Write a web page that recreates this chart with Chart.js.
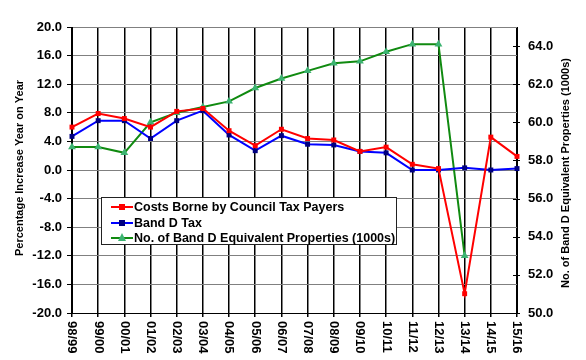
<!DOCTYPE html>
<html>
<head>
<meta charset="utf-8">
<script src="https://cdn.jsdelivr.net/npm/chart.js@4"></script>
<style>
  html, body { margin: 0; padding: 0; background: #fff; }
  #wrap { position: relative; width: 586px; height: 360px; }
  #legend {
    position: absolute; left: 101px; top: 197px; width: 296px; height: 48px;
    background: #fff; border: 1px solid #222; box-sizing: border-box;
    font-family: "Liberation Sans", Arial, sans-serif; font-weight: bold; font-size: 12.5px; color: #000;
  }
  .row { position: absolute; left: 0; height: 16px; line-height: 16px; white-space: nowrap; }
  .row .ln { position: absolute; left: 9px; top: 7px; width: 22px; height: 2px; }
  .row .mk { position: absolute; }
  .row .tx { position: absolute; left: 32px; top: 0; }
</style>
</head>
<body>
<div id="wrap">
  <canvas id="c" width="586" height="360"></canvas>
  <div id="legend"></div>
</div>
<script>
const categories = ["98/99","99/00","00/01","01/02","02/03","03/04","04/05","05/06","06/07","07/08","08/09","09/10","10/11","11/12","12/13","13/14","14/15","15/16"];
const costsBorne = [6.0, 7.9, 7.2, 6.0, 8.2, 8.6, 5.5, 3.4, 5.7, 4.4, 4.2, 2.6, 3.2, 0.8, 0.2, -17.3, 4.6, 1.9];
const bandDTax = [4.7, 6.9, 6.9, 4.4, 6.9, 8.3, 4.9, 2.7, 4.8, 3.6, 3.5, 2.6, 2.4, 0.0, 0.0, 0.3, 0.0, 0.2];
const bandDProperties = [58.7, 58.7, 58.4, 60.0, 60.5, 60.8, 61.1, 61.8, 62.3, 62.7, 63.1, 63.2, 63.7, 64.1, 64.1, 53.0, null, null];
const seriesNames = ["Costs Borne by Council Tax Payers", "Band D Tax", "No. of Band D Equivalent Properties (1000s)"];
const leftTitle = "Percentage Increase Year on Year";
const rightTitle = "No. of Band D Equivalent Properties (1000s)";

const FONT = '"Liberation Sans", Arial, sans-serif';

const customDraw = {
  id: 'customDraw',
  afterDraw(chart) {
    const ctx = chart.ctx;
    const x = chart.scales.x, y1 = chart.scales.y1, area = chart.chartArea;
    ctx.save();
    ctx.fillStyle = '#000';
    ctx.font = 'bold 13px ' + FONT;
    ctx.textAlign = 'left';
    ctx.textBaseline = 'middle';
    categories.forEach((lab, i) => {
      const px = x.getPixelForTick(i);
      ctx.save();
      ctx.translate(px, area.bottom + 8);
      ctx.rotate(Math.PI / 2);
      ctx.fillText(lab, 0, 0);
      ctx.restore();
    });
    // right axis tick marks crossing the axis
    ctx.strokeStyle = '#000';
    ctx.lineWidth = 1;
    y1.ticks.forEach((t, i) => {
      const py = Math.round(y1.getPixelForTick(i)) + 0.5;
      ctx.beginPath();
      ctx.moveTo(area.right - 4, py);
      ctx.lineTo(area.right + 3, py);
      ctx.stroke();
    });
    // axis titles
    ctx.font = 'bold 11px ' + FONT;
    ctx.textAlign = 'center';
    ctx.save();
    ctx.translate(20, (area.top + area.bottom) / 2 - 2);
    ctx.rotate(-Math.PI / 2);
    ctx.fillText(leftTitle, 0, 0);
    ctx.restore();
    ctx.save();
    ctx.translate(566, (area.top + area.bottom) / 2 + 3);
    ctx.rotate(-Math.PI / 2);
    ctx.fillText(rightTitle, 0, 0);
    ctx.restore();
    ctx.restore();
  }
};

const chart = new Chart(document.getElementById('c'), {
  type: 'line',
  data: {
    labels: categories,
    datasets: [
      {
        label: seriesNames[0], data: costsBorne, yAxisID: 'y',
        borderColor: '#ff0000', backgroundColor: '#ff0000', borderWidth: 2,
        pointStyle: 'rect', pointRadius: 3.5, pointBorderWidth: 0, tension: 0
      },
      {
        label: seriesNames[1], data: bandDTax, yAxisID: 'y',
        borderColor: '#0000ff', backgroundColor: '#000080', pointBackgroundColor: '#000080', borderWidth: 2,
        pointStyle: 'rect', pointRadius: 3.5, pointBorderWidth: 0, tension: 0
      },
      {
        label: seriesNames[2], data: bandDProperties, yAxisID: 'y1',
        borderColor: '#108a10', backgroundColor: '#3cb371', pointBackgroundColor: '#3cb371', borderWidth: 2,
        pointStyle: 'triangle', pointRadius: 4.5, pointBorderWidth: 0, tension: 0
      }
    ]
  },
  options: {
    responsive: false,
    animation: false,
    devicePixelRatio: 1,
    layout: { padding: { top: 27, left: 0, right: 0, bottom: 0 } },
    plugins: { legend: { display: false }, tooltip: { enabled: false } },
    scales: {
      x: {
        type: 'category', offset: false,
        grid: { color: '#000', lineWidth: 1.5, tickLength: 4, drawTicks: true },
        border: { color: '#000', width: 1 },
        ticks: { display: false },
        afterFit(s) { s.height = 47; }
      },
      y: {
        position: 'left', min: -20, max: 20,
        ticks: { stepSize: 4, color: '#000', font: { family: FONT, weight: 'bold', size: 13 }, padding: 5,
                 callback: v => v.toFixed(1) },
        grid: { color: '#808080', lineWidth: 1, tickLength: 5, tickColor: '#000' },
        border: { color: '#000', width: 1 },
        afterFit(s) { s.width = 72; }
      },
      y1: {
        position: 'right', min: 50, max: 65,
        afterBuildTicks(s) { s.ticks = [50,52,54,56,58,60,62,64].map(v => ({ value: v })); },
        ticks: { color: '#000', font: { family: FONT, weight: 'bold', size: 13 }, padding: 11,
                 callback: v => Number(v).toFixed(1) },
        grid: { drawOnChartArea: false, drawTicks: false },
        border: { color: '#000', width: 1 },
        afterFit(s) { s.width = 69; }
      }
    }
  },
  plugins: [customDraw]
});

// HTML legend
const legend = document.getElementById('legend');
const legendStyles = [
  { line: '#ff0000', mark: 'sq', fill: '#ff0000' },
  { line: '#0000ff', mark: 'sq', fill: '#000080' },
  { line: '#108a10', mark: 'tri', fill: '#3cb371' }
];
seriesNames.forEach((name, i) => {
  const st = legendStyles[i];
  const row = document.createElement('div');
  row.className = 'row';
  row.style.top = (1 + i * 15.5) + 'px';
  const ln = document.createElement('div'); ln.className = 'ln'; ln.style.background = st.line; row.appendChild(ln);
  const mk = document.createElement('div'); mk.className = 'mk';
  if (st.mark === 'sq') {
    mk.style.cssText = 'left:17px;top:5px;width:6px;height:6px;background:' + st.fill + ';';
  } else {
    mk.style.cssText = 'left:16px;top:3px;width:0;height:0;border-left:4px solid transparent;border-right:4px solid transparent;border-bottom:8px solid ' + st.fill + ';';
  }
  row.appendChild(mk);
  const tx = document.createElement('span'); tx.className = 'tx'; tx.textContent = name; row.appendChild(tx);
  legend.appendChild(row);
});
</script>
</body>
</html>
